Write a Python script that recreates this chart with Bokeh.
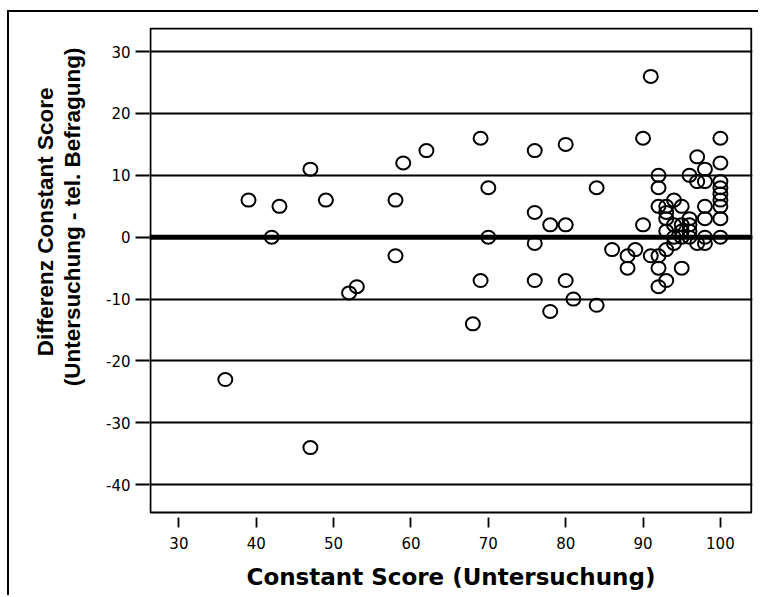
from bokeh.plotting import figure
from bokeh.models import (Span, BoxAnnotation, Title, FixedTicker, Range1d, LinearAxis,
                          PrintfTickFormatter)
from bokeh.embed import file_html
from bokeh.resources import INLINE

# Constant Score (Untersuchung)
score_exam = [36, 39, 42, 43, 47, 47, 49, 52, 53, 58, 58, 59, 62, 68, 69, 69, 70, 70,
              76, 76, 76, 76, 78, 78, 80, 80, 80, 81, 84, 84,
              86, 88, 88, 89, 90, 90, 91, 91, 92, 92, 92, 92, 92, 92,
              93, 93, 93, 93, 93, 93, 94, 94, 94, 94, 95, 95, 95, 95, 95,
              96, 96, 96, 96, 96, 97, 97, 97, 98, 98, 98, 98, 98, 98,
              100, 100, 100, 100, 100, 100, 100, 100, 100]
# Differenz (Untersuchung - tel. Befragung)
score_diff = [-23, 6, 0, 5, 11, -34, 6, -9, -8, 6, -3, 12, 14, -14, 16, -7, 8, 0,
              14, 4, -1, -7, 2, -12, 15, 2, -7, -10, 8, -11,
              -2, -3, -5, -2, 16, 2, 26, -3, 10, 8, 5, -3, -5, -8,
              5, 3, 1, -2, -7, 4, 6, 2, 0, -1, 5, 2, 1, 0, -5,
              10, 3, 2, 1, 0, 13, 9, -1, 11, 9, 5, 3, 0, -1,
              16, 12, 9, 8, 7, 6, 5, 3, 0]

x_ticks = [30, 40, 50, 60, 70, 80, 90, 100]
x_tick_labels = ["30", "40", "50", "60", "70", "80", "90", "100"]
y_ticks = [-40, -30, -20, -10, 0, 10, 20, 30]
y_tick_labels = ["-40", "-30", "-20", "-10", "0", "10", "20", "30"]

x_label = "Constant Score (Untersuchung)"
y_label_line1 = "Differenz Constant Score"
y_label_line2 = "(Untersuchung - tel. Befragung)"

X0, X1 = 26.2, 104.15
Y0, Y1 = -45.3, 33.9

p = figure(width=751, height=585, output_backend="svg", toolbar_location=None,
           x_range=Range1d(X0, X1), y_range=Range1d(Y0, Y1),
           min_border_left=140, min_border_right=8, min_border_top=15,
           min_border_bottom=80)
p.margin = (10, 0, 0, 7)
p.styles = {"border-left": "2px solid black", "border-top": "2px solid black"}
p.outline_line_color = None
p.background_fill_color = "white"
p.border_fill_color = "white"

# grid
p.xgrid.visible = False
p.ygrid.ticker = FixedTicker(ticks=y_ticks)
p.ygrid.grid_line_color = "black"
p.ygrid.grid_line_width = 1.8

# y axis
p.yaxis.ticker = FixedTicker(ticks=y_ticks)
p.yaxis.major_label_overrides = dict(zip(y_ticks, y_tick_labels))
p.yaxis.axis_line_color = None
p.yaxis.major_tick_line_width = 1.8
p.yaxis.major_tick_out = 14
p.yaxis.major_tick_in = 0
p.yaxis.minor_tick_out = 0
p.yaxis.minor_tick_in = 0
p.yaxis.major_label_standoff = 5
p.yaxis.major_label_text_font = "DejaVu Sans"
p.yaxis.major_label_text_font_size = "15px"
p.yaxis.major_label_text_color = "black"

# x axis
p.xaxis.ticker = FixedTicker(ticks=x_ticks)
p.xaxis.major_label_overrides = dict(zip(x_ticks, x_tick_labels))
p.xaxis.axis_line_color = None
p.xaxis.major_tick_line_width = 1.8
p.xaxis.major_tick_out = 10
p.xaxis.major_tick_in = 0
p.xaxis.minor_tick_out = 0
p.xaxis.minor_tick_in = 0
p.xaxis.major_label_standoff = 9
p.xaxis.major_label_text_font = "DejaVu Sans"
p.xaxis.major_label_text_font_size = "15px"
p.xaxis.major_label_text_color = "black"
p.xaxis.axis_label = x_label
p.xaxis.axis_label_text_font = "DejaVu Sans"
p.xaxis.axis_label_text_font_size = "23px"
p.xaxis.axis_label_text_font_style = "bold"
p.xaxis.axis_label_text_color = "black"
p.xaxis.axis_label_standoff = 12

# blank spacer axis (one white tick, empty label) between tick labels and y title
spacer = LinearAxis(ticker=FixedTicker(ticks=[-45]), axis_line_color=None,
                    formatter=PrintfTickFormatter(format=""),
                    major_tick_out=19, major_tick_in=0, minor_tick_out=0,
                    minor_tick_in=0, major_label_standoff=0,
                    major_tick_line_color="white")
p.add_layout(spacer, "left")

# visible plot frame (bottom edge sits above the tick marks)
frame = BoxAnnotation(left=X0 + 0.12, right=104.0, top=33.75, bottom=-44.5,
                      fill_alpha=0, fill_color=None,
                      line_color="black", line_alpha=1.0, line_width=2)
p.add_layout(frame)

# zero reference line
p.add_layout(Span(location=0, dimension="width", line_color="black", line_width=5))

# points
p.ellipse(x=score_exam, y=score_diff, width=14, height=13,
          width_units="screen", height_units="screen",
          fill_color=None, line_color="black", line_width=2)

# y axis title, two lines, shifted upward like the original
for txt, off in ((y_label_line2, 20), (y_label_line1, 60)):
    t = Title(text=txt, align="right", offset=off,
              text_font="Liberation Sans", text_font_size="22.5px",
              text_font_style="bold", text_color="black", standoff=0,
              text_line_height=1.0)
    p.add_layout(t, "left")

open("out.html", "w").write(file_html(p, INLINE))
